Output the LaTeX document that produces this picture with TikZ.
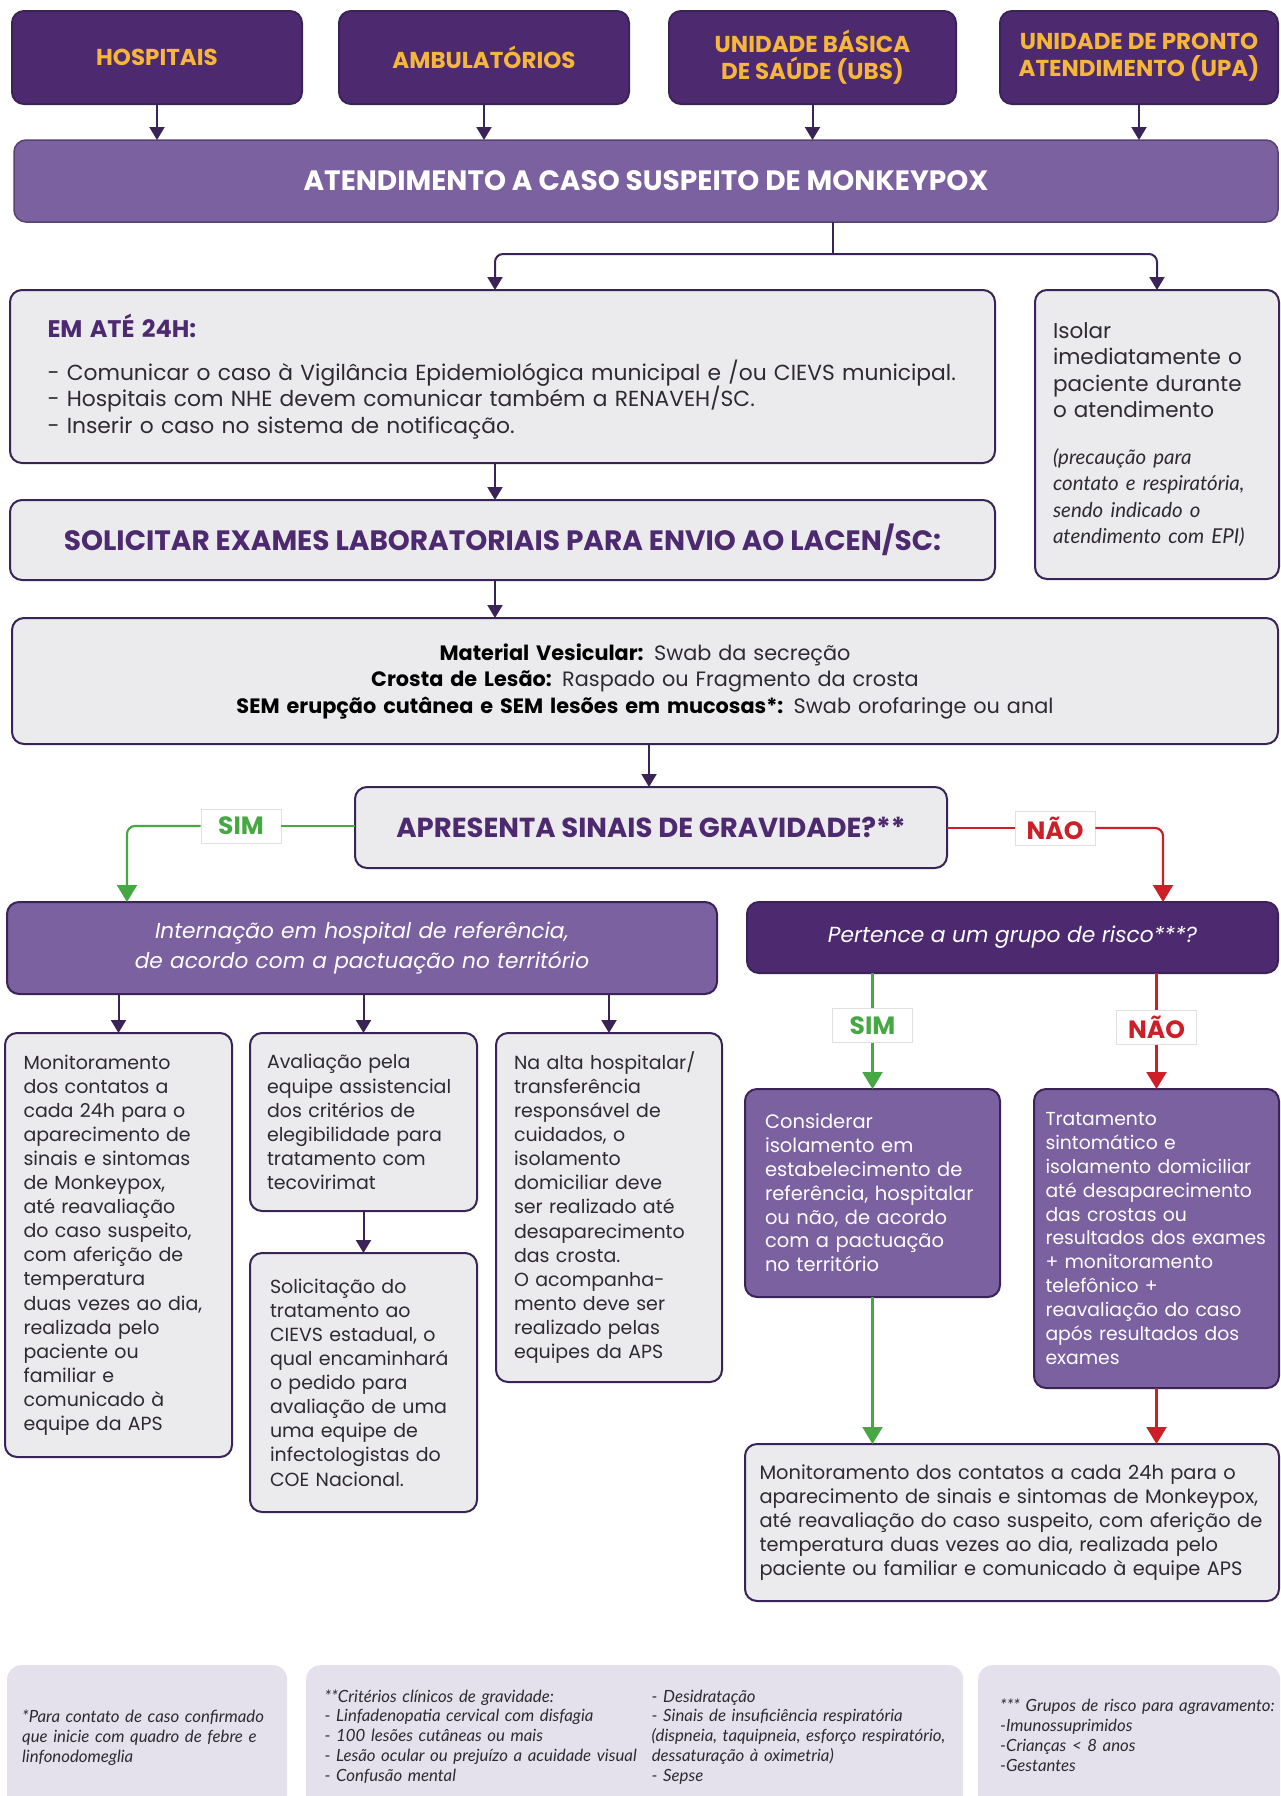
\documentclass[tikz,border=0pt]{standalone}
\usepackage{fontspec}
\setmainfont{Poppins}
\newfontfamily\latofont{Lato}
\usetikzlibrary{arrows.meta,calc}
\definecolor{dpurple}{HTML}{4D2A70}
\definecolor{mpurple}{HTML}{7B61A0}
\definecolor{bpurple}{HTML}{3A2356}
\definecolor{lgray}{HTML}{EBEAEC}
\definecolor{ftbg}{HTML}{E4E0EC}
\definecolor{gold}{HTML}{F5B63A}
\definecolor{sgreen}{HTML}{45A843}
\definecolor{nred}{HTML}{CC1F27}
\definecolor{txt}{HTML}{2E2A33}
\begin{document}
\begin{tikzpicture}[x=1pt,y=-1pt,
  box/.style={draw=bpurple, line width=2pt, rounded corners=12pt, anchor=north west, inner sep=0pt, outer sep=0pt},
  graybox/.style={box, fill=lgray, text=txt},
  topbox/.style={box, fill=dpurple, text=gold, align=center, minimum height=93pt, font=\fontsize{23}{27}\selectfont\bfseries},
  purplebox/.style={box, fill=mpurple, text=white},
  bodytext/.style={font=\fontsize{19}{24.1}\selectfont, align=left},
  conn/.style={draw=bpurple, line width=2pt, -{Triangle[width=15pt,length=13pt]}},
  plainline/.style={draw=bpurple, line width=2pt},
  garrow/.style={draw=sgreen, line width=2.2pt, -{Triangle[width=20pt,length=17pt]}},
  rarrow/.style={draw=nred, line width=2.2pt, -{Triangle[width=20pt,length=17pt]}},
  gline/.style={draw=sgreen, line width=2.2pt},
  rline/.style={draw=nred, line width=2.2pt},
  lbl/.style={draw=black!12, fill=white, line width=0.8pt, inner sep=0pt, minimum width=80pt, minimum height=34pt, font=\fontsize{25}{28}\selectfont\bfseries},
  footbox/.style={fill=ftbg, rounded corners=14pt, anchor=north west, inner sep=0pt, text=txt, font=\latofont\itshape\fontsize{16.8}{19.8}\selectfont}
]
\useasboundingbox[fill=white] (0,0) rectangle (1280,1796);

% top row
\node[topbox, minimum width=290pt] (hosp) at (12,11) {HOSPITAIS};
\node[topbox, minimum width=290pt] (amb) at (339,11) {AMBULATÓRIOS};
\node[topbox, minimum width=287pt] (ubs) at (669,11) {UNIDADE BÁSICA\\DE SAÚDE (UBS)};
\node[topbox, minimum width=278pt] (upa) at (1000,11) {UNIDADE DE PRONTO\\ATENDIMENTO (UPA)};

\node[box, draw=mpurple!70!black, line width=1.5pt, fill=mpurple, text=white, minimum width=1264pt, minimum height=82pt, font=\fontsize{28}{32}\selectfont\bfseries] (bar) at (14,140) {ATENDIMENTO A CASO SUSPEITO DE MONKEYPOX};

\foreach \n in {hosp,amb,ubs,upa} \draw[conn] (\n.south) -- (\n.south |- bar.north);

% second level
\node[graybox, minimum width=985pt, minimum height=173pt, text width=910pt, align=left, font=\fontsize{21.8}{26.5}\selectfont] (em) at (10,290) {%
{\bfseries\color{dpurple}\fontsize{24}{27}\selectfont EM ATÉ 24H:}\\[16pt]
- Comunicar o caso à Vigilância Epidemiológica municipal e /ou CIEVS municipal.\\
- Hospitais com NHE devem comunicar também a RENAVEH/SC.\\
- Inserir o caso no sistema de notificação.};

\node[graybox, minimum width=244pt, minimum height=289pt, text width=208pt, align=left, font=\fontsize{21.5}{26.5}\selectfont] (iso) at (1035,290) {%
Isolar\\imediatamente o\\paciente durante\\o atendimento\\[20pt]
{\latofont\itshape\fontsize{20.5}{26.5}\selectfont (precaução para\\contato e respiratória,\\sendo indicado o\\atendimento com EPI)}};

\coordinate (split) at (833,254);
\draw[plainline] (bar.south -| split) -- (split);
\draw[conn, rounded corners=8pt] (split) -| (em.north -| 495,0);
\draw[conn, rounded corners=8pt] (split) -| (iso.north);

\node[graybox, minimum width=985pt, minimum height=80pt, text=dpurple, font=\fontsize{28}{32}\selectfont\bfseries] (sol) at (10,500) {SOLICITAR EXAMES LABORATORIAIS PARA ENVIO AO LACEN/SC:};
\draw[conn] (em.south -| 495,0) -- (sol.north -| 495,0);

\node[graybox, minimum width=1266pt, minimum height=126pt, text width=1200pt, align=center, font=\fontsize{20.8}{26.5}\selectfont] (mat) at (12,618) {%
{\bfseries\color{black}Material Vesicular:} Swab da secreção\\
{\bfseries\color{black}Crosta de Lesão:} Raspado ou Fragmento da crosta\\
{\bfseries\color{black}SEM erupção cutânea e SEM lesões em mucosas*:} Swab orofaringe ou anal};
\draw[conn] (sol.south -| 495,0) -- (mat.north -| 495,0);

\node[graybox, minimum width=592pt, minimum height=81pt, text=dpurple, font=\fontsize{27.5}{32}\selectfont\bfseries] (dec) at (355,787) {APRESENTA SINAIS DE GRAVIDADE?**};
\draw[conn] (mat.south -| 649,0) -- (dec.north -| 649,0);

% decision branches
\node[purplebox, minimum width=710pt, minimum height=92pt, text width=700pt, align=center, font=\itshape\fontsize{21.7}{30}\selectfont] (intern) at (7,902) {Internação em hospital de referência,\\de acordo com a pactuação no território};
\node[box, fill=dpurple, text=white, minimum width=531pt, minimum height=71pt, font=\itshape\fontsize{21.8}{26}\selectfont] (pert) at (747,902) {Pertence a um grupo de risco***?};

\node[lbl, text=sgreen] (sim1) at (241,826) {SIM};
\node[lbl, text=nred] (nao1) at (1055,828) {NÃO};
\coordinate (internin) at (127,902);
\coordinate (pertin) at (1163,902);
\draw[gline] (dec.west |- sim1) -- (sim1.east);
\draw[garrow, rounded corners=8pt] (sim1.west) -| (internin);
\draw[rline] (dec.east |- nao1) -- (nao1.west);
\draw[rarrow, rounded corners=8pt] (nao1.east) -| (pertin);

% internacao children
\node[graybox, minimum width=227pt, minimum height=424pt, text width=190pt, bodytext] (b1) at (5,1033) {Monitoramento\\dos contatos a\\cada 24h para o\\aparecimento de\\sinais e sintomas\\de Monkeypox,\\até reavaliação\\do caso suspeito,\\com aferição de\\temperatura\\duas vezes ao dia,\\realizada pelo\\paciente ou\\familiar e\\comunicado à\\equipe da APS};
\node[graybox, minimum width=227pt, minimum height=178pt, text width=193pt, bodytext] (b2) at (250,1033) {Avaliação pela\\equipe assistencial\\dos critérios de\\elegibilidade para\\tratamento com\\tecovirimat};
\node[graybox, minimum width=227pt, minimum height=259pt, text width=187pt, bodytext] (b3) at (250,1253) {Solicitação do\\tratamento ao\\CIEVS estadual, o\\qual encaminhará\\o pedido para\\avaliação de uma\\uma equipe de\\infectologistas do\\COE Nacional.};
\node[graybox, minimum width=226pt, minimum height=349pt, text width=190pt, bodytext] (b4) at (496,1033) {Na alta hospitalar/\\transferência\\responsável de\\cuidados, o\\isolamento\\domiciliar deve\\ser realizado até\\desaparecimento\\das crosta.\\O acompanha-\\mento deve ser\\realizado pelas\\equipes da APS};
\foreach \n in {b1,b2,b4} \draw[conn] (intern.south -| \n.north) -- (\n.north);
\draw[conn] (b2.south) -- (b3.north);

% pertence children
\node[purplebox, minimum width=255pt, minimum height=208pt, text width=215pt, align=left, font=\fontsize{19.5}{23.8}\selectfont] (cons) at (745,1089) {Considerar\\isolamento em\\estabelecimento de\\referência, hospitalar\\ou não, de acordo\\com a pactuação\\no território};
\node[purplebox, minimum width=245pt, minimum height=299pt, text width=222pt, align=left, font=\fontsize{18.8}{23.9}\selectfont] (trat) at (1034,1089) {Tratamento\\sintomático e\\isolamento domiciliar\\até desaparecimento\\das crostas ou\\resultados dos exames\\+ monitoramento\\telefônico +\\reavaliação do caso\\após resultados dos\\exames};
\node[graybox, minimum width=534pt, minimum height=157pt, text width=505pt, align=left, font=\fontsize{19.4}{24}\selectfont] (mon) at (745,1444) {Monitoramento dos contatos a cada 24h para o\\aparecimento de sinais e sintomas de Monkeypox,\\até reavaliação do caso suspeito, com aferição de\\temperatura duas vezes ao dia, realizada pelo\\paciente ou familiar e comunicado à equipe APS};

\draw[garrow] (pert.south -| cons.north) -- node[lbl, text=sgreen, pos=0.45] (sim2) {SIM} (cons.north);
\draw[rarrow] (pert.south -| trat.north) -- node[lbl, text=nred, pos=0.47] (nao2) {NÃO} (trat.north);
\draw[garrow] (cons.south) -- (cons.south |- mon.north);
\draw[rarrow] (trat.south) -- (trat.south |- mon.north);

% footer
\node[footbox, minimum width=280pt, minimum height=145pt, text width=250pt, align=left] (fa) at (7,1665) {*Para contato de caso confirmado\\que inicie com quadro de febre e\\linfonodomeglia};
\node[footbox, minimum width=657pt, minimum height=145pt, text width=620pt, align=left] (fb) at (306,1665) {%
\begin{tabular}{@{}l@{\hspace{15pt}}l@{}}
**Critérios clínicos de gravidade: & - Desidratação\\
- Linfadenopatia cervical com disfagia & - Sinais de insuficiência respiratória\\
- 100 lesões cutâneas ou mais & (dispneia, taquipneia, esforço respiratório,\\
- Lesão ocular ou prejuízo a acuidade visual & dessaturação à oximetria)\\
- Confusão mental & - Sepse
\end{tabular}};
\node[footbox, minimum width=302pt, minimum height=145pt, text width=282pt, align=left] (fc) at (978,1665) {%
\begin{tabular}{@{\hspace{12pt}}l@{}}
*** Grupos de risco para agravamento:\\-Imunossuprimidos\\-Crianças < 8 anos\\-Gestantes
\end{tabular}};
\end{tikzpicture}
\end{document}
